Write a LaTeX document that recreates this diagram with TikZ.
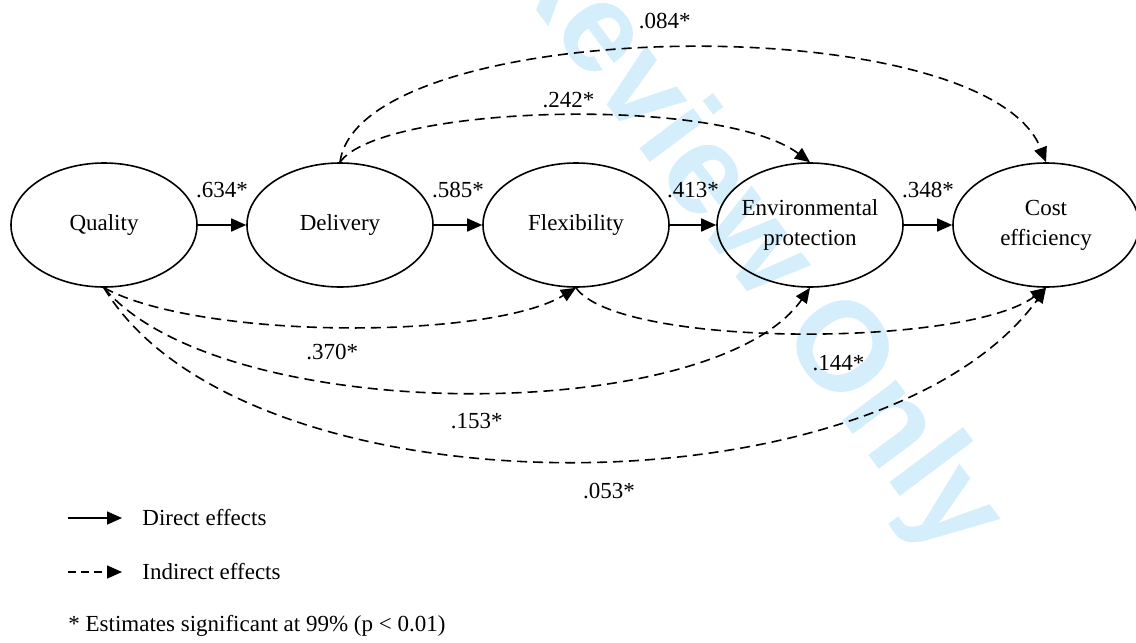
\documentclass[tikz,border=0pt]{standalone}
\usepackage{fontspec}
\setmainfont{Liberation Serif}
\newfontfamily\wmfont{Liberation Sans}
\usetikzlibrary{positioning, calc, shapes.geometric, arrows.meta}
\definecolor{wmblue}{RGB}{212,238,252}

\begin{document}
\begin{tikzpicture}[x=0.5pt, y=-0.5pt, font=\fontsize{11.5}{15}\selectfont,
	latent/.style={draw, ellipse, line width=0.8pt, minimum width=93pt, minimum height=62pt, inner sep=0pt, align=center},
	direct/.style={-{Triangle[length=7.5pt,width=6.5pt]}, line width=0.8pt},
	indirect/.style={direct, dash pattern=on 5pt off 3pt}]
	\useasboundingbox (0,0) rectangle (1136,643);
	% watermark
	\begin{scope}
		\clip (0,0) rectangle (1136,643);
		\node (wm) [rotate=-53.2, text=wmblue, font=\wmfont\bfseries\fontsize{63.5}{70}\selectfont] at (676,142) {For Review Only};
	\end{scope}
	\node (n1) [latent] at (104,225) {Quality};
	\node (n2) [latent] at (340,225) {Delivery};
	\node (n3) [latent] at (576,225) {Flexibility};
	\node (n4) [latent, inner xsep=-8pt] at (810,225) {Environmental\\protection};
	\node (n5) [latent] at (1046,225) {Cost\\efficiency};
	\draw [direct] (n1) -- (n2) node[midway,above=10pt] {.634*};
	\draw [direct] (n2) -- (n3) node[midway,above=10pt] {.585*};
	\draw [direct] (n3) -- (n4) node[midway,above=10pt] {.413*};
	\draw [direct] (n4) -- (n5) node[midway,above=10pt] {.348*};
	
	\draw [indirect] (n2.north) .. controls (380,105) and (720,95) .. (n4.north) node[pos=0.52,above] {.242*};
	\draw [indirect] (n2.north) .. controls (360,15) and (985,5) .. (n5.north) node[pos=0.487,above=6pt] {.084*};
	\draw [indirect] (n1.south) .. controls (200,340) and (490,340) .. (n3.south) node[pos=0.48,below=5pt] {.370*};
	\draw [indirect] (n1.south) .. controls (221,427) and (712,427) .. (n4.south) node[pos=0.514,below=7pt] {.153*};
	\draw [indirect] (n1.south) .. controls (243,519) and (878,519) .. (n5.south) node[pos=0.538,below=8pt] {.053*};
	\draw [indirect] (n3.south) .. controls (618,348) and (966,348) .. (n5.south) node[pos=0.568,below=8pt] {.144*};
	
	% legend
	\coordinate (l1) at (68,518);
	\coordinate (l2) at (68,572);
	\node (ldirect) [anchor=west, inner sep=0pt] at (142,518) {Direct effects};
	\node (lindirect) [anchor=west, inner sep=0pt] at (142,572) {Indirect effects};
	\node (lnote) [anchor=west, inner sep=0pt] at (68,626) {* Estimates significant at 99\% (p < 0.01)};
	\draw [direct, shorten >=10pt] (l1) -- (ldirect.west);
	\draw [indirect, dash pattern=on 4pt off 2.5pt, shorten >=10pt] (l2) -- (lindirect.west);
\end{tikzpicture}
\end{document}
